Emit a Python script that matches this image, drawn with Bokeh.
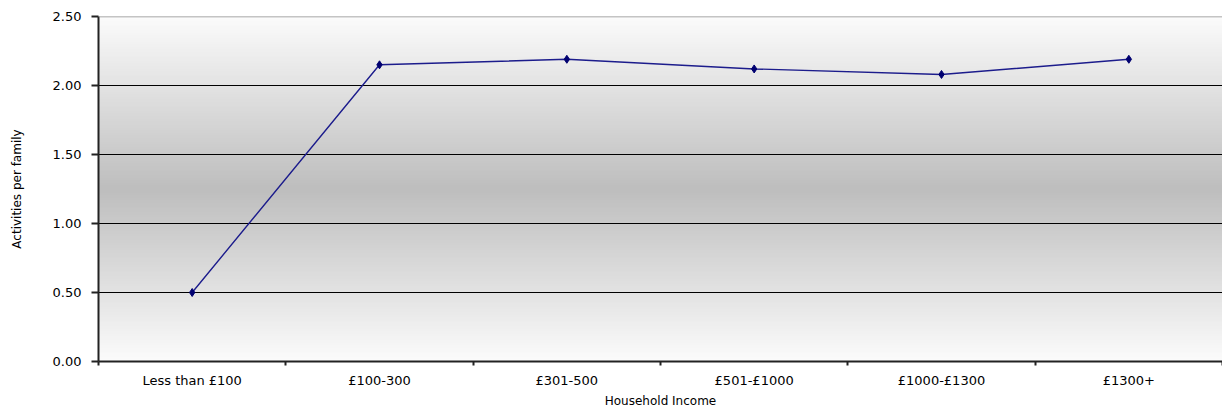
import numpy as np
from bokeh.plotting import figure
from bokeh.models import FixedTicker, Range1d, Span, NumeralTickFormatter, ColumnDataSource
from bokeh.embed import file_html
from bokeh.resources import INLINE

categories = ["Less than £100", "£100-300", "£301-500", "£501-£1000", "£1000-£1300", "£1300+"]
activities = [0.50, 2.15, 2.19, 2.12, 2.08, 2.19]
y_ticks = [0.0, 0.5, 1.0, 1.5, 2.0, 2.5]

xs = [i + 0.5 for i in range(len(categories))]
bounds = list(range(len(categories) + 1))

p = figure(width=1222, height=410, output_backend="svg", toolbar_location=None,
           x_range=Range1d(0, len(categories)), y_range=Range1d(0, 2.5),
           min_border_left=98, min_border_right=0, min_border_top=16, min_border_bottom=49)
p.background_fill_color = "white"
p.border_fill_color = "white"
p.outline_line_color = None

# gradient background (white edges, gray centre)
N = 200
t = (np.arange(N) + 0.5) / N
g = (252 - (252 - 190) * (1 - np.abs(t - 0.5) * 2)).astype(np.uint8)
img = np.empty((N, 2), dtype=np.uint32)
view = img.view(dtype=np.uint8).reshape((N, 2, 4))
view[:, :, 0] = g[:, None]
view[:, :, 1] = g[:, None]
view[:, :, 2] = g[:, None]
view[:, :, 3] = 255
r_img = p.image_rgba(image=[img], x=0, y=0, dw=len(categories), dh=2.5)
r_img.level = "image"

# grid
p.xgrid.grid_line_color = None
p.ygrid.ticker = FixedTicker(ticks=[0.5, 1.0, 1.5, 2.0])
p.ygrid.grid_line_color = "black"
p.ygrid.grid_line_width = 1
p.add_layout(Span(location=2.5, dimension="width", line_color="#8c8c8c", line_width=1.5))

src = ColumnDataSource(dict(x=xs, y=activities))
p.line("x", "y", source=src, line_color="#1c1c8c", line_width=1.4)
p.scatter("x", "y", source=src, marker="diamond", size=8, fill_color="#000070", line_color="#000070")

font = "DejaVu Sans"
# x axis
p.xaxis.ticker = FixedTicker(ticks=xs, minor_ticks=bounds)
p.xaxis.major_label_overrides = {x: c for x, c in zip(xs, categories)}
p.xaxis.major_tick_out = 0
p.xaxis.major_tick_in = 0
p.xaxis.minor_tick_out = 4
p.xaxis.minor_tick_in = 0
p.xaxis.minor_tick_line_color = "#222222"
p.xaxis.minor_tick_line_width = 2
p.xaxis.major_label_standoff = 7
p.xaxis.axis_label = "Household Income"
p.xaxis.axis_label_standoff = 3

# y axis
p.yaxis.ticker = FixedTicker(ticks=y_ticks)
p.yaxis.formatter = NumeralTickFormatter(format="0.00")
p.yaxis.major_tick_out = 7
p.yaxis.major_tick_in = 0
p.yaxis.major_tick_line_color = "#222222"
p.yaxis.major_tick_line_width = 2
p.yaxis.minor_tick_line_color = None
p.yaxis.major_label_standoff = 10
p.yaxis.axis_label = "Activities per family"
p.yaxis.axis_label_standoff = 26

for ax in (p.xaxis[0], p.yaxis[0]):
    ax.axis_line_color = "#222222"
    ax.axis_line_width = 2
    ax.major_label_text_font = font
    ax.major_label_text_font_size = "13px"
    ax.major_label_text_color = "black"
    ax.axis_label_text_font = font
    ax.axis_label_text_font_size = "12px"
    ax.axis_label_text_font_style = "normal"
    ax.axis_label_text_color = "black"

open("out.html", "w").write(file_html(p, INLINE))
